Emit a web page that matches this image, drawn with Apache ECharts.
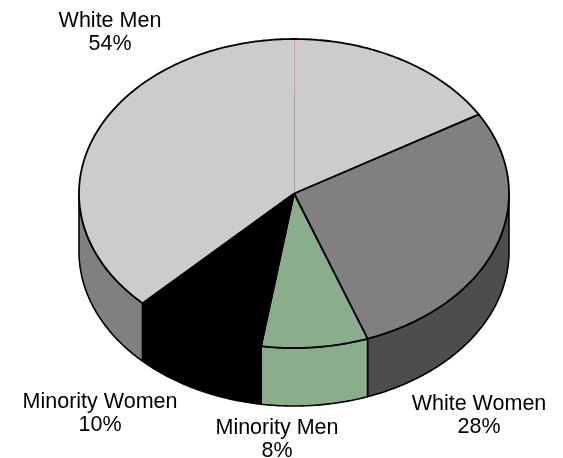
<!DOCTYPE html>
<html>
<head>
<meta charset="utf-8">
<style>html,body{margin:0;padding:0;background:#fff}#c{width:563px;height:458px}</style>
<script src="https://cdn.jsdelivr.net/npm/echarts@6/dist/echarts.min.js"></script>
</head>
<body>
<div id="c"></div>
<script>
var categories = ['White Women', 'Minority Men', 'Minority Women', 'White Men'];
var shares = [28, 8, 10, 54];
var topColors = ['#808080', '#8aae8c', '#000000', '#cccccc'];
var wallColors = ['#4d4d4d', '#8aae8c', '#000000', '#808080'];

var cx = 294, cy = 193.5, rx = 215, ry = 154.5, depth = 58;
var seamX = 294.5;
var startDeg = 59.2;
var labelCentres = [[479, 415.5], [277, 440], [100, 413.5], [110, 33]];

var total = shares.reduce(function (a, b) { return a + b; }, 0);
var bounds = [startDeg];
shares.forEach(function (v, i) { bounds.push(bounds[i] + v / total * 360); });

function pt(deg, dy) {
  var r = deg * Math.PI / 180;
  return [cx + rx * Math.sin(r), cy - ry * Math.cos(r) + (dy || 0)];
}
function arc(a0, a1, dy) {
  var out = [], n = Math.max(2, Math.ceil(Math.abs(a1 - a0) * 1.5));
  for (var i = 0; i <= n; i++) out.push(pt(a0 + (a1 - a0) * i / n, dy));
  return out;
}
function renderWall(params, api) {
  var i = params.dataIndex;
  var a0 = Math.max(bounds[i], 90), a1 = Math.min(bounds[i + 1], 270);
  if (a1 <= a0) return { type: 'group', children: [] };
  return {
    type: 'polygon',
    shape: { points: arc(a0, a1, 0).concat(arc(a1, a0, depth)) },
    style: { fill: wallColors[i], stroke: '#000', lineWidth: 1.6, lineJoin: 'round' }
  };
}
function renderTop(params, api) {
  var i = params.dataIndex;
  return {
    type: 'polygon',
    shape: { points: [[cx, cy]].concat(arc(bounds[i], bounds[i + 1], 0)) },
    style: { fill: topColors[i], stroke: '#000', lineWidth: 1.8, lineJoin: 'round' }
  };
}
function renderSeam(params, api) {
  var top = pt(360, 0), split = cy - ry * 0.65;
  return {
    type: 'group',
    children: [
      { type: 'line', shape: { x1: seamX, y1: top[1] + 1, x2: seamX, y2: split },
        style: { stroke: '#e8979f', lineWidth: 1 } },
      { type: 'line', shape: { x1: seamX, y1: split, x2: seamX, y2: cy - 1 },
        style: { stroke: '#a3a3a3', lineWidth: 1 } }
    ]
  };
}
function renderLabel(params, api) {
  var i = params.dataIndex;
  return {
    type: 'text',
    style: {
      x: labelCentres[i][0], y: labelCentres[i][1],
      text: categories[i] + '\n' + shares[i] + '%',
      align: 'center', verticalAlign: 'middle',
      font: '21.5px "Liberation Sans", Arial, sans-serif',
      lineHeight: 23, fill: '#000'
    }
  };
}
var chart = echarts.init(document.getElementById('c'), null, { renderer: 'canvas' });
chart.setOption({
  animation: false,
  backgroundColor: '#fff',
  series: [
    { type: 'custom', coordinateSystem: 'none', data: shares, renderItem: renderWall, silent: true, z: 1 },
    { type: 'custom', coordinateSystem: 'none', data: shares, renderItem: renderTop, silent: true, z: 2 },
    { type: 'custom', coordinateSystem: 'none', data: [1], renderItem: renderSeam, silent: true, z: 3 },
    { type: 'custom', coordinateSystem: 'none', data: shares, renderItem: renderLabel, silent: true, z: 4 }
  ]
});
</script>
</body>
</html>
